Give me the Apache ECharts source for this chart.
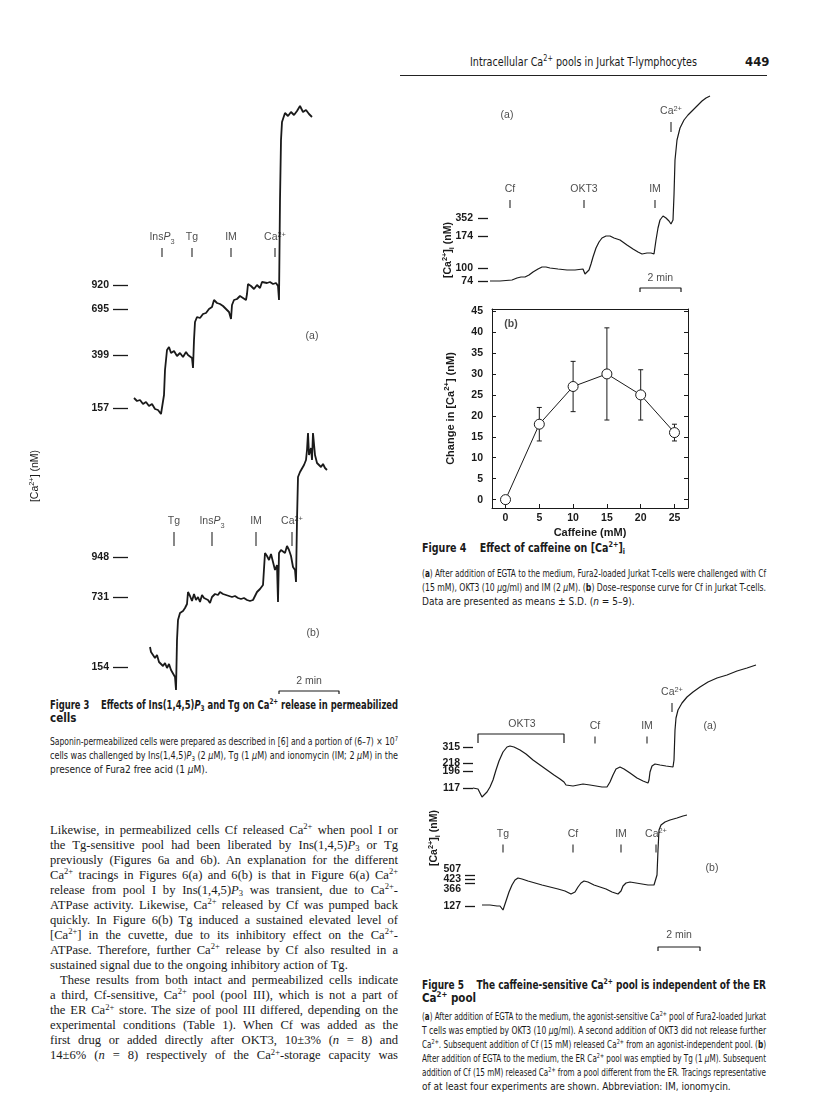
<!DOCTYPE html>
<html>
<head>
<meta charset="utf-8">
<title>Intracellular Ca2+ pools in Jurkat T-lymphocytes</title>
<script src="https://cdn.jsdelivr.net/npm/echarts@6.0.0/dist/echarts.min.js"></script>
<style>
  html, body { margin: 0; padding: 0; background: #fff; }
  #page { position: relative; width: 816px; height: 1093px; overflow: hidden; color: #1a1a1a; }
  #chart { position: absolute; left: 0; top: 0; width: 816px; height: 1093px; }
  .blk { position: absolute; }
  .ln { white-space: nowrap; text-align: justify; text-align-last: justify; }
  .ln.end { text-align-last: left; }
  .sans { font-family: 'Liberation Sans Narrow', 'DejaVu Sans Condensed', 'Liberation Sans', sans-serif; }
  .serif { font-family: 'Liberation Serif', 'DejaVu Serif', serif; }
  .cap { font-size: 10px; line-height: 14px; }
  .head { font-size: 11.5px; font-weight: bold; line-height: 13px; }
  .body { font-size: 12.6px; line-height: 15.07px; }
  sup, sub { font-size: 0.68em; line-height: 0; position: relative; vertical-align: baseline; }
  sup { top: -0.55em; }
  sub { top: 0.3em; }
  .ind { display: inline-block; width: 10px; }
  .rule { position: absolute; left: 400px; top: 75px; width: 367px; border-top: 1.5px solid #222; }
</style>
</head>
<body>
<div id="page">

  <div class="blk sans" style="left:470px;top:54px;width:227px;font-size:12.5px;line-height:16px;">
    <div class="ln"><span>Intracellular Ca<sup>2+</sup> pools in Jurkat T-lymphocytes</span></div>
  </div>
  <div class="blk sans" style="left:745px;top:54px;font-size:13px;line-height:16px;font-weight:bold;">449</div>
  <div class="rule"></div>

  <!-- Figure 3 legend -->
  <div class="blk sans head" style="left:50px;top:698.5px;width:348px;">
    <div class="ln"><span>Figure 3&nbsp;&nbsp;&nbsp; Effects of Ins(1,4,5)<i>P</i><sub>3</sub> and Tg on Ca<sup>2+</sup> release in permeabilized</span></div>
    <div class="ln end"><span>cells</span></div>
  </div>
  <div class="blk sans cap" style="left:50px;top:735px;width:348px;">
    <div class="ln"><span>Saponin-permeabilized cells were prepared as described in [6] and a portion of (6–7) × 10<sup>7</sup></span></div>
    <div class="ln"><span>cells was challenged by Ins(1,4,5)<i>P</i><sub>3</sub> (2 <i>μ</i>M), Tg (1 <i>μ</i>M) and ionomycin (IM; 2 <i>μ</i>M) in the</span></div>
    <div class="ln end"><span>presence of Fura2 free acid (1 <i>μ</i>M).</span></div>
  </div>

  <!-- body text -->
  <div class="blk serif body" style="left:50px;top:822.5px;width:348px;">
    <div class="ln"><span>Likewise, in permeabilized cells Cf released Ca<sup>2+</sup> when pool I or</span></div>
    <div class="ln"><span>the Tg-sensitive pool had been liberated by Ins(1,4,5)<i>P</i><sub>3</sub> or Tg</span></div>
    <div class="ln"><span>previously (Figures 6a and 6b). An explanation for the different</span></div>
    <div class="ln"><span>Ca<sup>2+</sup> tracings in Figures 6(a) and 6(b) is that in Figure 6(a) Ca<sup>2+</sup></span></div>
    <div class="ln"><span>release from pool I by Ins(1,4,5)<i>P</i><sub>3</sub> was transient, due to Ca<sup>2+</sup>-</span></div>
    <div class="ln"><span>ATPase activity. Likewise, Ca<sup>2+</sup> released by Cf was pumped back</span></div>
    <div class="ln"><span>quickly. In Figure 6(b) Tg induced a sustained elevated level of</span></div>
    <div class="ln"><span>[Ca<sup>2+</sup>] in the cuvette, due to its inhibitory effect on the Ca<sup>2+</sup>-</span></div>
    <div class="ln"><span>ATPase. Therefore, further Ca<sup>2+</sup> release by Cf also resulted in a</span></div>
    <div class="ln end"><span>sustained signal due to the ongoing inhibitory action of Tg.</span></div>
    <div class="ln"><span><b class="ind"></b>These results from both intact and permeabilized cells indicate</span></div>
    <div class="ln"><span>a third, Cf-sensitive, Ca<sup>2+</sup> pool (pool III), which is not a part of</span></div>
    <div class="ln"><span>the ER Ca<sup>2+</sup> store. The size of pool III differed, depending on the</span></div>
    <div class="ln"><span>experimental conditions (Table 1). When Cf was added as the</span></div>
    <div class="ln"><span>first drug or added directly after OKT3, 10±3% (<i>n</i> = 8) and</span></div>
    <div class="ln"><span>14±6% (<i>n</i> = 8) respectively of the Ca<sup>2+</sup>-storage capacity was</span></div>
  </div>

  <!-- Figure 4 legend -->
  <div class="blk sans head" style="left:422px;top:541.5px;width:203px;">
    <div class="ln"><span>Figure 4&nbsp;&nbsp;&nbsp; Effect of caffeine on [Ca<sup>2+</sup>]<sub>i</sub></span></div>
  </div>
  <div class="blk sans cap" style="left:422px;top:567px;width:344px;">
    <div class="ln"><span>(<b>a</b>) After addition of EGTA to the medium, Fura2-loaded Jurkat T-cells were challenged with Cf</span></div>
    <div class="ln"><span>(15 mM), OKT3 (10 <i>μ</i>g/ml) and IM (2 <i>μ</i>M). (<b>b</b>) Dose–response curve for Cf in Jurkat T-cells.</span></div>
    <div class="ln end"><span>Data are presented as means ± S.D. (<i>n</i> = 5–9).</span></div>
  </div>

  <!-- Figure 5 legend -->
  <div class="blk sans head" style="left:422px;top:978.5px;width:344px;">
    <div class="ln"><span>Figure 5&nbsp;&nbsp;&nbsp; The caffeine-sensitive Ca<sup>2+</sup> pool is independent of the ER</span></div>
    <div class="ln end"><span>Ca<sup>2+</sup> pool</span></div>
  </div>
  <div class="blk sans cap" style="left:422px;top:1010px;width:344px;line-height:13.9px;">
    <div class="ln"><span>(<b>a</b>) After addition of EGTA to the medium, the agonist-sensitive Ca<sup>2+</sup> pool of Fura2-loaded Jurkat</span></div>
    <div class="ln"><span>T cells was emptied by OKT3 (10 <i>μ</i>g/ml). A second addition of OKT3 did not release further</span></div>
    <div class="ln"><span>Ca<sup>2+</sup>. Subsequent addition of Cf (15 mM) released Ca<sup>2+</sup> from an agonist-independent pool. (<b>b</b>)</span></div>
    <div class="ln"><span>After addition of EGTA to the medium, the ER Ca<sup>2+</sup> pool was emptied by Tg (1 <i>μ</i>M). Subsequent</span></div>
    <div class="ln"><span>addition of Cf (15 mM) released Ca<sup>2+</sup> from a pool different from the ER. Tracings representative</span></div>
    <div class="ln end"><span>of at least four experiments are shown. Abbreviation: IM, ionomycin.</span></div>
  </div>

  <div id="chart"></div>
</div>

<script>
// squeeze lines that are too long for their column, justify the rest
document.querySelectorAll('.ln').forEach(function (line) {
  var span = line.firstElementChild;
  var room = line.clientWidth;
  var natural = span.getBoundingClientRect().width;
  if (natural > room + 0.5) {
    line.style.textAlignLast = 'left';
    span.style.display = 'inline-block';
    span.style.transformOrigin = '0 50%';
    span.style.transform = 'scaleX(' + (room / natural).toFixed(4) + ')';
  }
});

var FONT = "'Liberation Sans Narrow', 'Liberation Sans', Arial, sans-serif";
var INK = '#1a1a1a';

// ---------- Figure 3(a): InsP3, Tg, IM, Ca2+ (time s, pen height) ----------
var f3aTrace = [
  [12, 22], [18, 19], [24, 20], [30, 16], [36, 18], [42, 14], [48, 16], [54, 11], [60, 10], [66, 6],
  [70, 4], [72, 25], [74, 50], [78, 70], [82, 73], [86, 67], [92, 69], [98, 64], [104, 67], [110, 63],
  [116, 68], [120, 65], [124, 66], [128, 62], [130, 52], [132, 80], [134, 98], [138, 103], [144, 102], [150, 106],
  [156, 107], [162, 111], [168, 113], [172, 120], [178, 117], [184, 116], [190, 114], [196, 111], [202, 108], [206, 101],
  [208, 115], [212, 120], [218, 121], [224, 124], [230, 122], [236, 120], [238, 126], [240, 136], [246, 134], [252, 131],
  [258, 135], [264, 132], [268, 138], [272, 140], [278, 137], [284, 138], [290, 136], [296, 137], [300, 134], [302, 120],
  [304, 220], [306, 280], [308, 298], [314, 307], [320, 304], [326, 308], [332, 305], [338, 309], [344, 314], [350, 308],
  [356, 310], [362, 306], [368, 303]
];
var f3aTicks = [12, 65, 111, 135];
var f3aTickLabels = ['157', '399', '695', '920'];
var f3aAddTimes = [68, 128, 206, 294];
var f3aAddNames = ['InsP3', 'Tg', 'IM', 'Ca2+'];

// ---------- Figure 3(b): Tg, InsP3, IM, Ca2+ ----------
var f3bTrace = [
  [44, 53], [46, 48], [50, 50], [54, 42], [58, 45], [62, 38], [66, 40], [70, 34], [74, 37], [78, 32],
  [82, 36], [86, 30], [90, 28], [94, 23], [96, 10], [98, 60], [100, 80], [104, 87], [110, 89], [114, 92],
  [118, 96], [120, 108], [124, 104], [128, 99], [132, 106], [136, 100], [140, 103], [144, 98], [148, 105], [152, 102],
  [156, 104], [160, 100], [164, 97], [168, 103], [174, 106], [180, 105], [184, 108], [190, 106], [196, 105], [202, 104],
  [208, 103], [214, 104], [220, 102], [226, 101], [232, 102], [238, 100], [244, 99], [250, 100], [254, 98], [258, 108],
  [264, 111], [270, 115], [274, 147], [278, 144], [282, 140], [286, 146], [290, 138], [294, 130], [298, 135], [300, 98],
  [302, 147], [306, 150], [310, 152], [314, 147], [318, 154], [322, 150], [326, 144], [330, 133], [334, 130], [336, 118],
  [338, 180], [340, 223], [344, 228], [348, 230], [352, 235], [356, 240], [358, 250], [360, 267], [362, 245], [366, 252],
  [368, 240], [370, 267], [374, 245], [378, 237], [382, 238], [386, 233], [390, 236], [394, 232], [398, 230]
];
var f3bTicks = [33, 103, 143];
var f3bTickLabels = ['154', '731', '948'];
var f3bAddTimes = [92, 168, 256, 328];
var f3bAddNames = ['Tg', 'InsP3', 'IM', 'Ca2+'];

// ---------- Figure 4(a): intact cells, Cf, OKT3, IM, Ca2+ ----------
var f4aTrace = [
  [6, 19], [36, 19], [72, 20], [87, 22], [99, 23], [111, 23], [123, 25], [135, 28], [150, 31], [162, 33],
  [174, 33], [186, 32], [210, 31], [237, 30], [261, 30], [285, 31], [288, 30], [291, 26], [297, 27], [303, 30],
  [309, 36], [315, 43], [324, 52], [333, 58], [342, 62], [354, 64], [366, 64], [378, 62], [396, 60], [417, 55],
  [435, 51], [450, 48], [462, 46], [477, 47], [489, 47], [498, 46], [501, 48], [504, 60], [510, 72], [516, 80],
  [525, 84], [534, 82], [543, 79], [549, 76], [555, 80], [558, 105], [561, 140], [567, 160], [576, 172], [588, 180],
  [600, 185], [612, 189], [627, 194], [642, 199], [654, 202], [666, 204]
];
var f4aTicks = [19, 32, 64, 82];
var f4aTickLabels = ['74', '100', '174', '352'];
var f4aAddTimes = [66, 288, 501];
var f4aAddNames = ['Cf', 'OKT3', 'IM'];
var f4aCaTime = [549];

// ---------- Figure 4(b): dose-response for caffeine ----------
var cfDose = [0, 5, 10, 15, 20, 25];
var cfChange = [0, 18, 27, 30, 25, 16];
var cfSD = [0, 4, 6, 11, 6, 2];
var cfDoseTicks = [0, 5, 10, 15, 20, 25];
var cfChangeTicks = [0, 5, 10, 15, 20, 25, 30, 35, 40, 45];

// ---------- Figure 5(a): OKT3, Cf, IM, Ca2+ ----------
var f5aTrace = [
  [0, 12], [15, 11], [21, 9], [27, 3], [33, 5], [42, 8], [51, 13], [60, 20], [69, 30], [78, 39],
  [90, 48], [102, 53], [111, 54], [123, 53], [141, 50], [159, 46], [180, 40], [201, 35], [222, 30], [243, 25],
  [261, 21], [273, 18], [279, 15], [282, 17], [300, 14], [315, 15], [330, 16], [351, 15], [369, 14], [372, 16],
  [387, 13], [402, 13], [411, 18], [420, 25], [429, 31], [441, 33], [453, 31], [471, 27], [492, 22], [510, 19],
  [525, 17], [528, 20], [531, 28], [537, 34], [546, 36], [561, 35], [579, 34], [600, 33], [603, 40], [606, 70],
  [609, 82], [615, 90], [627, 97], [642, 103], [660, 108], [681, 113], [705, 118], [732, 122], [762, 125], [792, 129],
  [822, 132], [849, 135]
];
var f5aTicks = [12, 29, 37, 53];
var f5aTickLabels = ['117', '196', '218', '315'];
var f5aOkt3 = [15, 273];
var f5aAddTimes = [366, 522];
var f5aAddNames = ['Cf', 'IM'];
var f5aCaTime = [597];

// ---------- Figure 5(b): Tg, Cf, IM, Ca2+ ----------
var f5bTrace = [
  [21, 55], [45, 55], [66, 54], [75, 54], [81, 52], [84, 50], [90, 56], [96, 62], [102, 68], [111, 75],
  [120, 80], [129, 82], [141, 81], [159, 79], [180, 77], [201, 75], [225, 73], [249, 71], [270, 69], [288, 66],
  [294, 65], [300, 68], [309, 73], [318, 77], [327, 79], [339, 78], [357, 75], [375, 73], [393, 71], [411, 68],
  [429, 66], [435, 65], [438, 69], [444, 74], [453, 77], [465, 78], [483, 77], [501, 76], [519, 75], [537, 75],
  [543, 74], [546, 85], [549, 110], [552, 130], [558, 135], [570, 138], [585, 140], [606, 142], [624, 144], [636, 145]
];
var f5bTicks = [54, 77, 81, 85];
var f5bTickLabels = ['127', '366', '423', '507'];
var f5bAddTimes = [84, 294, 438, 543];
var f5bAddNames = ['Tg', 'Cf', 'IM', 'Ca2+'];

// ---------------------------------------------------------------------------
var MARKUP = {
  'InsP3': '{n|Ins}{i|P}{sb|3}',
  'Ca2+': '{n|Ca}{sp|2+}'
};
function markup(s) { return MARKUP[s] || '{n|' + s + '}'; }

function rich(size, weight) {
  var base = { fontFamily: FONT, fontSize: size, fontWeight: weight || 'normal', color: INK, fill: INK,
    verticalAlign: 'bottom', padding: [0, 0, 3, 0] };
  var small = Math.round(size * 7) / 10;
  return {
    n: base,
    i: Object.assign({}, base, { fontStyle: 'italic' }),
    sb: Object.assign({}, base, { fontSize: small, padding: [0, 0, 1, 0] }),
    sp: Object.assign({}, base, { fontSize: small, padding: [0, 0, 8, 0] })
  };
}

var grids = [], xAxes = [], yAxes = [], series = [];

function plainLabels(ticks, labels) {
  return function (v) { return labels[ticks.indexOf(v)]; };
}

// a trace panel: hidden time axis, signal axis showing only the calibration ticks
function traceGrid(box, xMax, yMax, ticks, tickLen, margin, labelAt, formatter) {
  var gi = grids.length;
  grids.push(box);
  var ax = { x: xAxes.length, y: yAxes.length };
  xAxes.push({ gridIndex: gi, type: 'value', min: 0, max: xMax, show: false });
  yAxes.push({
    gridIndex: gi, type: 'value', min: 0, max: yMax,
    axisLine: { show: false }, splitLine: { show: false },
    axisTick: { show: true, length: tickLen, customValues: ticks, lineStyle: { color: INK, width: 1.3 } },
    axisLabel: {
      show: true, customValues: labelAt, margin: margin, hideOverlap: false,
      fontFamily: FONT, fontSize: 10.5, fontWeight: 'bold', color: INK, lineHeight: 10,
      formatter: formatter
    }
  });
  return ax;
}

function trace(ax, data, width) {
  series.push({
    type: 'line', xAxisIndex: ax.x, yAxisIndex: ax.y, data: data, symbol: 'none', silent: true,
    lineStyle: { color: INK, width: width }, z: 2, animation: false
  });
}

function additions(ax, times, names, level, len) {
  series.push({
    type: 'scatter', xAxisIndex: ax.x, yAxisIndex: ax.y, silent: true, animation: false,
    data: times.map(function (t, k) { return [t, level, markup(names[k])]; }),
    symbol: 'rect', symbolSize: [1.3, len], itemStyle: { color: INK },
    label: { show: true, position: 'top', distance: 2, rich: rich(10.5),
      formatter: function (p) { return p.data[2]; } }
  });
}

function bracket(ax, t1, t2, level, drop) {
  series.push({
    type: 'line', xAxisIndex: ax.x, yAxisIndex: ax.y, symbol: 'none', silent: true, animation: false,
    data: [[t1, level - drop], [t1, level], [t2, level], [t2, level - drop]],
    lineStyle: { color: INK, width: 1.2 }
  });
}

function texts(ax, items, size, weight) {
  series.push({
    type: 'scatter', xAxisIndex: ax.x, yAxisIndex: ax.y, silent: true, animation: false,
    data: items, symbolSize: 1, itemStyle: { color: 'rgba(0,0,0,0)' },
    label: { show: true, position: 'inside', rich: rich(size, weight),
      formatter: function (p) { return p.data[2]; } }
  });
}

// Figure 3
var a3a = traceGrid({ left: 128, top: 100, width: 212, height: 320 }, 424, 320,
  f3aTicks, 15, 19, f3aTicks, plainLabels(f3aTicks, f3aTickLabels));
trace(a3a, f3aTrace, 1.8);
additions(a3a, f3aAddTimes, f3aAddNames, 167.5, 9);
texts(a3a, [[368, 82, '{n|(a)}']], 10.5);

var a3b = traceGrid({ left: 128, top: 420, width: 212, height: 280 }, 424, 280,
  f3bTicks, 15, 19, f3bTicks, plainLabels(f3bTicks, f3bTickLabels));
trace(a3b, f3bTrace, 1.8);
additions(a3b, f3bAddTimes, f3bAddNames, 161, 14);
bracket(a3b, 302, 422, 9, 3);
texts(a3b, [[370, 65, '{n|(b)}'], [362, 17, '{n|2 min}']], 10.5);

// Figure 4(a)
var a4a = traceGrid({ left: 488, top: 90, width: 230, height: 210 }, 690, 210,
  f4aTicks, 10, 15, f4aTicks, plainLabels(f4aTicks, f4aTickLabels));
trace(a4a, f4aTrace, 1.2);
additions(a4a, f4aAddTimes, f4aAddNames, 96, 8);
additions(a4a, f4aCaTime, ['Ca2+'], 173, 10);
bracket(a4a, 456, 579, 12, 4);
texts(a4a, [[57, 183, '{n|(a)}'], [517, 20, '{n|2 min}']], 10.5);

// Figure 5(a)
var a5a = traceGrid({ left: 473, top: 650, width: 290, height: 150 }, 870, 150,
  f5aTicks, 10, 13, f5aTicks, plainLabels(f5aTicks, f5aTickLabels));
trace(a5a, f5aTrace, 1.2);
bracket(a5a, f5aOkt3[0], f5aOkt3[1], 66, 9);
additions(a5a, f5aAddTimes, f5aAddNames, 60, 7);
additions(a5a, f5aCaTime, ['Ca2+'], 92.5, 9);
texts(a5a, [[147, 74, '{n|OKT3}'], [711, 72, '{n|(a)}']], 10.5);

// Figure 5(b): the three close calibration ticks share one stacked label
var a5b = traceGrid({ left: 475, top: 800, width: 290, height: 160 }, 870, 160,
  f5bTicks, 10, 14, [f5bTicks[0], f5bTicks[2]],
  function (v) {
    return v === f5bTicks[0] ? f5bTickLabels[0]
      : [f5bTickLabels[3], f5bTickLabels[2], f5bTickLabels[1]].join('\n');
  });
trace(a5b, f5bTrace, 1.2);
additions(a5b, f5bAddTimes, f5bAddNames, 111.5, 8);
bracket(a5b, 549, 675, 13, 4);
texts(a5b, [[711, 90, '{n|(b)}'], [612, 23, '{n|2 min}']], 10.5);

// Figure 4(b): boxed dose-response plot
var g4b = grids.length;
grids.push({ left: 492, top: 309, width: 196, height: 199 });
var a4b = { x: xAxes.length, y: yAxes.length };
xAxes.push({
  gridIndex: g4b, type: 'value', min: -2, max: 27,
  name: 'Caffeine (mM)', nameLocation: 'middle', nameGap: 19,
  nameTextStyle: { fontFamily: FONT, fontSize: 11, fontWeight: 'bold', color: INK },
  axisLine: { show: true, onZero: false, lineStyle: { color: INK, width: 1 } },
  axisTick: { show: true, inside: true, length: 4, customValues: cfDoseTicks, lineStyle: { color: INK } },
  axisLabel: { show: true, customValues: cfDoseTicks, margin: 5, fontFamily: FONT, fontSize: 10.5, fontWeight: 'bold', color: INK },
  splitLine: { show: false }
});
yAxes.push({
  gridIndex: g4b, type: 'value', min: -2, max: 45.5,
  name: '{n|Change in [Ca}{sp|2+}{n|] (nM)}', nameLocation: 'middle', nameGap: 33,
  nameTextStyle: { rich: rich(11, 'bold') },
  axisLine: { show: true, onZero: false, lineStyle: { color: INK, width: 1 } },
  axisTick: { show: true, inside: true, length: 4, customValues: cfChangeTicks, lineStyle: { color: INK } },
  axisLabel: { show: true, customValues: cfChangeTicks, margin: 9, fontFamily: FONT, fontSize: 10.5, fontWeight: 'bold', color: INK },
  splitLine: { show: false }
});
xAxes.push({
  gridIndex: g4b, type: 'value', position: 'top', min: -2, max: 27,
  axisLine: { show: true, onZero: false, lineStyle: { color: INK, width: 1 } },
  axisTick: { show: false }, axisLabel: { show: false }, splitLine: { show: false }
});
yAxes.push({
  gridIndex: g4b, type: 'value', position: 'right', min: -2, max: 45.5,
  axisLine: { show: true, onZero: false, lineStyle: { color: INK, width: 1 } },
  axisTick: { show: true, inside: true, length: 4, customValues: cfChangeTicks, lineStyle: { color: INK } },
  axisLabel: { show: false }, splitLine: { show: false }
});
series.push({
  type: 'custom', xAxisIndex: a4b.x, yAxisIndex: a4b.y, silent: true, animation: false, z: 2,
  data: cfDose.map(function (d, k) { return [d, cfChange[k] - cfSD[k], cfChange[k] + cfSD[k]]; })
    .filter(function (r) { return r[2] > r[1]; }),
  encode: { x: 0, y: [1, 2] },
  renderItem: function (params, api) {
    var x = api.value(0);
    var lo = api.coord([x, api.value(1)]);
    var hi = api.coord([x, api.value(2)]);
    var cap = 2.5;
    var st = { stroke: INK, lineWidth: 1 };
    return { type: 'group', children: [
      { type: 'line', shape: { x1: lo[0], y1: lo[1], x2: hi[0], y2: hi[1] }, style: st },
      { type: 'line', shape: { x1: lo[0] - cap, y1: lo[1], x2: lo[0] + cap, y2: lo[1] }, style: st },
      { type: 'line', shape: { x1: hi[0] - cap, y1: hi[1], x2: hi[0] + cap, y2: hi[1] }, style: st }
    ] };
  }
});
series.push({
  type: 'line', xAxisIndex: a4b.x, yAxisIndex: a4b.y, silent: true, animation: false, z: 3,
  data: cfDose.map(function (d, k) { return [d, cfChange[k]]; }),
  symbol: 'circle', symbolSize: 10, showSymbol: true,
  itemStyle: { color: '#fff', borderColor: INK, borderWidth: 1 },
  lineStyle: { color: INK, width: 1 }
});
texts(a4b, [[0.8, 41.6, '{n|(b)}']], 10.5, 'bold');

var chart = echarts.init(document.getElementById('chart'), null, { renderer: 'canvas' });
chart.setOption({
  animation: false,
  backgroundColor: 'transparent',
  textStyle: { fontFamily: FONT, color: INK },
  grid: grids,
  xAxis: xAxes,
  yAxis: yAxes,
  series: series,
  graphic: [
    { type: 'text', x: 36, y: 476, rotation: Math.PI / 2,
      style: { text: '{n|[Ca}{sp|2+}{n|] (nM)}', rich: rich(10.5), align: 'center', verticalAlign: 'middle' } },
    { type: 'text', x: 449, y: 250, rotation: Math.PI / 2,
      style: { text: '{n|[Ca}{sp|2+}{n|]}{sb|i}{n| (nM)}', rich: rich(10.5, 'bold'), align: 'center', verticalAlign: 'middle' } },
    { type: 'text', x: 435, y: 838, rotation: Math.PI / 2,
      style: { text: '{n|[Ca}{sp|2+}{n|]}{sb|i}{n| (nM)}', rich: rich(10.5, 'bold'), align: 'center', verticalAlign: 'middle' } }
  ]
});
</script>
</body>
</html>
